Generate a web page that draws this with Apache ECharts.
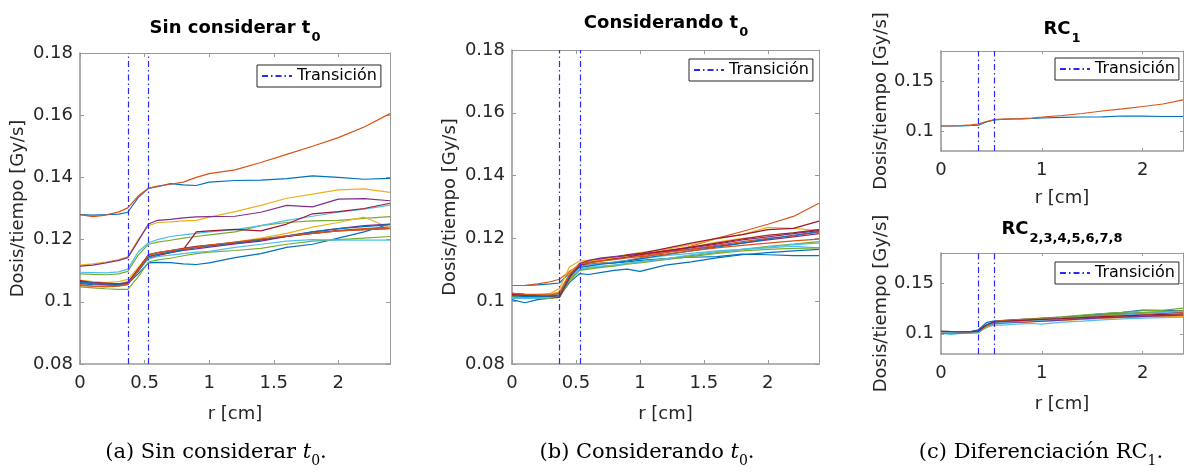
<!DOCTYPE html>
<html>
<head>
<meta charset="utf-8">
<script src="https://cdn.jsdelivr.net/npm/echarts@6/dist/echarts.min.js"></script>
<style>
html, body { margin: 0; padding: 0; background: #fff; }
#main { width: 1188px; height: 473px; }
</style>
</head>
<body>
<div id="main"></div>
<script>
// colores por defecto de MATLAB
var colores = ['#0072BD', '#D95319', '#EDB120', '#7E2F8E', '#77AC30', '#4DBEEE', '#A2142F'];

// posiciones radiales [cm]
var r = [0, 0.1, 0.2, 0.3, 0.37, 0.45, 0.53, 0.6, 0.7, 0.8, 0.9, 1.0, 1.2, 1.4, 1.6, 1.8, 2.0, 2.2, 2.4];
var transicion = [0.37, 0.53];

var ticksX = [0, 0.5, 1, 1.5, 2];
var ticksXc = [0, 1, 2];
var ticksY = [0.08, 0.1, 0.12, 0.14, 0.16, 0.18];
var ticksYc = [0.1, 0.15];

// (a) sin considerar t0  [Gy/s]
var sin01 = [.1280,.1279,.1280,.1282,.1288,.1335,.1365,.1370,.1380,.1376,.1374,.1385,.1390,.1391,.1396,.1405,.1400,.1394,.1397];
var sin02 = [.1280,.1274,.1279,.1289,.1302,.1340,.1365,.1372,.1378,.1385,.1400,.1412,.1424,.1448,.1474,.1500,.1528,.1562,.1605];
var sin03 = [.1118,.1122,.1128,.1136,.1145,.1200,.1245,.1255,.1257,.1260,.1262,.1272,.1290,.1310,.1333,.1346,.1360,.1363,.1352];
var sin04 = [.1115,.1118,.1125,.1133,.1142,.1195,.1250,.1262,.1265,.1270,.1273,.1274,.1275,.1288,.1310,.1305,.1330,.1332,.1325];
var sin05 = [.1090,.1088,.1087,.1090,.1098,.1150,.1185,.1192,.1198,.1205,.1210,.1215,.1225,.1245,.1255,.1260,.1262,.1268,.1274];
var sin06 = [.1095,.1094,.1093,.1096,.1105,.1160,.1190,.1200,.1210,.1215,.1220,.1225,.1232,.1245,.1262,.1275,.1288,.1298,.1311];
var sin07 = [.1065,.1062,.1060,.1058,.1062,.1100,.1140,.1148,.1158,.1168,.1225,.1228,.1233,.1228,.1250,.1283,.1290,.1300,.1317];
var sin08 = [.1058,.1055,.1054,.1052,.1058,.1090,.1125,.1127,.1126,.1122,.1120,.1125,.1142,.1155,.1175,.1185,.1205,.1225,.1250];
var sin09 = [.1055,.1050,.1048,.1050,.1055,.1100,.1150,.1156,.1162,.1168,.1175,.1180,.1188,.1198,.1210,.1220,.1230,.1235,.1240];
var sin10 = [.1070,.1065,.1062,.1065,.1072,.1110,.1148,.1155,.1160,.1168,.1175,.1180,.1192,.1205,.1220,.1240,.1255,.1272,.1238];
var sin11 = [.1060,.1058,.1055,.1055,.1060,.1100,.1145,.1152,.1158,.1165,.1170,.1176,.1186,.1195,.1210,.1225,.1235,.1245,.1250];
var sin12 = [.1048,.1045,.1042,.1040,.1040,.1080,.1128,.1135,.1140,.1148,.1155,.1160,.1165,.1172,.1185,.1195,.1200,.1205,.1210];
var sin13 = [.1062,.1060,.1058,.1058,.1065,.1100,.1138,.1145,.1150,.1155,.1160,.1162,.1175,.1185,.1195,.1200,.1198,.1198,.1198];
var sin14 = [.1068,.1062,.1060,.1058,.1062,.1105,.1152,.1158,.1165,.1172,.1178,.1182,.1190,.1200,.1210,.1220,.1228,.1232,.1235];
var sin15 = [.1062,.1060,.1058,.1056,.1060,.1098,.1145,.1152,.1160,.1168,.1174,.1180,.1190,.1200,.1212,.1225,.1235,.1242,.1248];
var sin16 = [.1052,.1050,.1050,.1052,.1056,.1100,.1150,.1158,.1165,.1170,.1176,.1182,.1192,.1202,.1212,.1220,.1228,.1232,.1236];

// (b) considerando t0  [Gy/s]  -- con01/con02 = RC1, el resto RC2..RC8
var con01 = [.1050,.1050,.1052,.1055,.1058,.1090,.1112,.1115,.1120,.1122,.1125,.1130,.1136,.1140,.1142,.1150,.1148,.1145,.1145];
var con02 = [.1050,.1050,.1055,.1062,.1070,.1095,.1115,.1118,.1122,.1124,.1130,.1138,.1155,.1175,.1200,.1222,.1245,.1270,.1312];
var con03 = [.1022,.1020,.1020,.1025,.1040,.1110,.1128,.1130,.1135,.1142,.1148,.1155,.1165,.1180,.1198,.1212,.1235,.1232,.1225];
var con04 = [.1018,.1015,.1015,.1012,.1012,.1080,.1118,.1128,.1135,.1140,.1145,.1150,.1158,.1165,.1175,.1185,.1195,.1205,.1215];
var con05 = [.1015,.1012,.1012,.1010,.1012,.1070,.1100,.1105,.1110,.1115,.1120,.1125,.1135,.1145,.1155,.1165,.1175,.1182,.1190];
var con06 = [.1020,.1018,.1018,.1018,.1025,.1085,.1110,.1115,.1120,.1125,.1130,.1135,.1145,.1152,.1160,.1165,.1170,.1175,.1170];
var con07 = [.1025,.1022,.1020,.1018,.1018,.1080,.1115,.1125,.1132,.1140,.1148,.1152,.1168,.1185,.1200,.1212,.1228,.1232,.1255];
var con08 = [.1005,.0995,.1005,.1010,.1015,.1060,.1088,.1085,.1092,.1098,.1102,.1095,.1115,.1125,.1138,.1148,.1155,.1160,.1165];
var con09 = [.1025,.1022,.1022,.1022,.1028,.1085,.1120,.1125,.1130,.1135,.1140,.1145,.1155,.1165,.1178,.1190,.1200,.1208,.1220];
var con10 = [.1020,.1018,.1018,.1022,.1030,.1090,.1122,.1128,.1132,.1138,.1142,.1148,.1160,.1172,.1188,.1200,.1210,.1218,.1228];
var con11 = [.1020,.1018,.1016,.1015,.1018,.1080,.1120,.1130,.1138,.1142,.1145,.1150,.1160,.1170,.1182,.1195,.1205,.1215,.1225];
var con12 = [.1012,.1010,.1010,.1010,.1012,.1065,.1098,.1102,.1108,.1112,.1118,.1122,.1132,.1142,.1152,.1160,.1165,.1168,.1170];
var con13 = [.1010,.1008,.1010,.1012,.1018,.1075,.1102,.1108,.1112,.1115,.1120,.1125,.1135,.1148,.1158,.1165,.1172,.1180,.1185];
var con14 = [.1022,.1020,.1018,.1015,.1012,.1075,.1115,.1122,.1128,.1135,.1140,.1148,.1160,.1172,.1185,.1198,.1210,.1218,.1228];
var con15 = [.1018,.1015,.1015,.1016,.1020,.1080,.1108,.1112,.1118,.1122,.1128,.1135,.1148,.1160,.1172,.1185,.1198,.1210,.1222];
var con16 = [.1025,.1022,.1020,.1020,.1025,.1085,.1118,.1122,.1128,.1132,.1138,.1142,.1150,.1160,.1170,.1178,.1185,.1192,.1198];

var sinT0 = [sin01, sin02, sin03, sin04, sin05, sin06, sin07, sin08, sin09, sin10, sin11, sin12, sin13, sin14, sin15, sin16];
var conT0 = [con01, con02, con03, con04, con05, con06, con07, con08, con09, con10, con11, con12, con13, con14, con15, con16];
var rc1 = [con01, con02];
var rcResto = conT0.slice(2);

var fuente = 'DejaVu Sans';
var ejeColor = '#9a9a9a';
var grids = [
  { left: 80, top: 53, width: 310, height: 311 },
  { left: 512, top: 50, width: 307, height: 314 },
  { left: 941, top: 51, width: 242, height: 100 },
  { left: 941, top: 253, width: 242, height: 101 }
];

function fmt(v) { return String(parseFloat(v.toFixed(3))); }

function ejeX(g, ticks, arriba, gap) {
  return {
    type: 'value', gridIndex: g, position: arriba ? 'top' : 'bottom',
    min: 0, max: 2.4,
    name: arriba ? '' : 'r [cm]', nameLocation: 'middle', nameGap: gap,
    nameTextStyle: { fontFamily: fuente, fontSize: 18, color: '#262626' },
    axisLine: { show: true, onZero: false, lineStyle: { color: ejeColor, width: arriba ? 1 : 1.6 } },
    axisTick: { show: true, inside: true, length: g < 2 ? 4 : 3, customValues: ticks, lineStyle: { color: ejeColor } },
    axisLabel: { show: !arriba, customValues: ticks, margin: 10, fontFamily: fuente, fontSize: 18, color: '#262626', formatter: fmt },
    splitLine: { show: false }
  };
}

function ejeY(g, ticks, derecha, gap) {
  return {
    type: 'value', gridIndex: g, position: derecha ? 'right' : 'left',
    min: 0.08, max: 0.18,
    name: derecha ? '' : 'Dosis/tiempo [Gy/s]', nameLocation: 'middle', nameGap: gap,
    nameTextStyle: { fontFamily: fuente, fontSize: 18, color: '#262626' },
    axisLine: { show: true, onZero: false, lineStyle: { color: ejeColor, width: derecha ? 1 : 1.6 } },
    axisTick: { show: true, inside: true, length: g < 2 ? 4 : 3, customValues: ticks, lineStyle: { color: ejeColor } },
    axisLabel: { show: !derecha, customValues: ticks, margin: 7, fontFamily: fuente, fontSize: 18, color: '#262626', formatter: fmt },
    splitLine: { show: false }
  };
}

function pares(ys) {
  return r.map(function (x, i) { return [x, ys[i]]; });
}

function curvas(lista, g) {
  return lista.map(function (ys, i) {
    var c = colores[i % colores.length];
    return {
      type: 'line', xAxisIndex: g, yAxisIndex: g, data: pares(ys),
      symbol: 'none', silent: true, z: 2,
      lineStyle: { width: 1.2, color: c }, itemStyle: { color: c }
    };
  });
}

function serieTransicion(g) {
  var estilo = { color: '#2a2aff', width: 1.2, type: [6, 3, 1.5, 3] };
  return {
    type: 'line', name: 'Transición', xAxisIndex: g, yAxisIndex: g, data: [],
    symbol: 'none', lineStyle: estilo, itemStyle: { color: '#2a2aff' }, z: 3,
    markLine: {
      silent: true, symbol: ['none', 'none'], label: { show: false },
      lineStyle: estilo,
      data: transicion.map(function (v) { return { xAxis: v }; })
    }
  };
}

function leyenda(x, y) {
  return {
    data: ['Transición'], left: x, top: y, selectedMode: false,
    itemWidth: 30, itemHeight: 12, padding: [3, 4, 3, 4],
    borderColor: '#262626', borderWidth: 1, backgroundColor: '#fff',
    itemStyle: { opacity: 0 },
    textStyle: { fontFamily: fuente, fontSize: 16, color: '#000' }
  };
}

var richTitulo = {
  m: { fontFamily: fuente, fontWeight: 'bold', fontSize: 18, color: '#000', lineHeight: 20, verticalAlign: 'top' },
  s: { fontFamily: fuente, fontWeight: 'bold', fontSize: 13, color: '#000', lineHeight: 13, padding: [12, 0, 0, 1], verticalAlign: 'top' }
};
var richPie = {
  n: { fontFamily: 'DejaVu Serif', fontWeight: 'normal', fontSize: 21, color: '#000', lineHeight: 24, verticalAlign: 'top' },
  i: { fontFamily: 'DejaVu Serif', fontWeight: 'normal', fontStyle: 'italic', fontSize: 21, color: '#000', lineHeight: 24, verticalAlign: 'top' },
  s: { fontFamily: 'DejaVu Serif', fontWeight: 'normal', fontSize: 14, color: '#000', lineHeight: 16, padding: [12, 0, 0, 0], verticalAlign: 'top' }
};

function titulo(txt, cx, y, rich, peso) {
  return {
    text: txt, left: cx, top: y, textAlign: 'center', padding: 0,
    textStyle: { fontWeight: peso, rich: rich }
  };
}

var myChart = echarts.init(document.getElementById('main'), null, { renderer: 'canvas' });

var series = []
  .concat(curvas(sinT0, 0), [serieTransicion(0)])
  .concat(curvas(conT0, 1), [serieTransicion(1)])
  .concat(curvas(rc1, 2), [serieTransicion(2)])
  .concat(curvas(rcResto, 3), [serieTransicion(3)]);

var option = {
  animation: false,
  backgroundColor: '#fff',
  title: [
    titulo('{m|Sin considerar t}{s|0}', 235, 19, richTitulo, 'bold'),
    titulo('{m|Considerando t}{s|0}', 666, 14, richTitulo, 'bold'),
    titulo('{m|RC}{s|1}', 1062, 20, richTitulo, 'bold'),
    titulo('{m|RC}{s|2,3,4,5,6,7,8}', 1062, 220, richTitulo, 'bold'),
    titulo('{n|(a) Sin considerar }{i|t}{s|0}{n|.}', 216, 442, richPie, 'normal'),
    titulo('{n|(b) Considerando }{i|t}{s|0}{n|.}', 647, 442, richPie, 'normal'),
    titulo('{n|(c) Diferenciación RC}{s|1}{n|.}', 1041, 442, richPie, 'normal')
  ],
  legend: [leyenda(257, 65), leyenda(689, 59), leyenda(1055, 58), leyenda(1055, 262)],
  grid: grids,
  xAxis: [
    ejeX(0, ticksX, false, 41), ejeX(1, ticksX, false, 41), ejeX(2, ticksXc, false, 38), ejeX(3, ticksXc, false, 41),
    ejeX(0, ticksX, true), ejeX(1, ticksX, true), ejeX(2, ticksXc, true), ejeX(3, ticksXc, true)
  ],
  yAxis: [
    ejeY(0, ticksY, false, 53), ejeY(1, ticksY, false, 53), ejeY(2, ticksYc, false, 51), ejeY(3, ticksYc, false, 51),
    ejeY(0, ticksY, true), ejeY(1, ticksY, true), ejeY(2, ticksYc, true), ejeY(3, ticksYc, true)
  ],
  series: series
};

myChart.setOption(option);

window.onresize = () => {
  myChart.resize()
}
</script>
</body>
</html>
